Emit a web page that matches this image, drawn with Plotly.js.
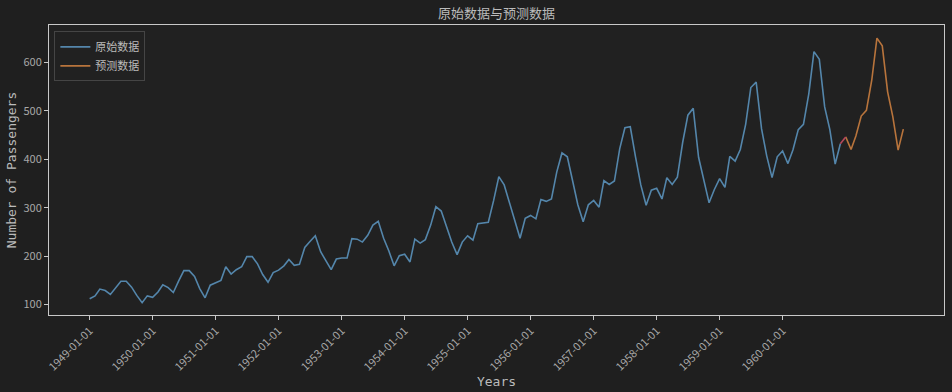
<!DOCTYPE html>
<html>
<head>
<meta charset="utf-8">
<script src="https://cdn.plot.ly/plotly-3.0.1.min.js"></script>
<style>html,body{margin:0;padding:0;background:#1f1f1f;}#chart{width:952px;height:392px;}</style>
</head>
<body>
<div id="chart"></div>
<script>
// Original monthly passengers 1949-01 .. 1960-12
const originalValues = [
  112,118,132,129,121,135,148,148,136,119,104,118,
  115,126,141,135,125,149,170,170,158,133,114,140,
  145,150,178,163,172,178,199,199,184,162,146,166,
  171,180,193,181,183,218,230,242,209,191,172,194,
  196,196,236,235,229,243,264,272,237,211,180,201,
  204,188,235,227,234,264,302,293,259,229,203,229,
  242,233,267,269,270,315,364,347,312,274,237,278,
  284,277,317,313,318,374,413,405,355,306,271,306,
  315,301,356,348,355,422,465,467,404,347,305,336,
  340,318,362,348,363,435,491,505,404,359,310,337,
  360,342,406,396,420,472,548,559,463,407,362,405,
  417,391,419,461,472,535,622,606,508,461,390,432
];
// Forecast 1961-01 .. 1961-12
const forecastValues = [446,420,448,489,501,563,650,634,539,488,419,462];
const startYear = 1949;
const tickYears = [1949,1950,1951,1952,1953,1954,1955,1956,1957,1958,1959,1960];
const tickLabels = tickYears.map(y => y + '-01-01');

function monthDates(startY, startM, n) {
  const out = [];
  for (let i = 0; i < n; i++) {
    const t = startM - 1 + i;
    const y = startY + Math.floor(t / 12);
    const m = (t % 12) + 1;
    out.push(y + '-' + String(m).padStart(2, '0') + '-01');
  }
  return out;
}
const originalDates = monthDates(startYear, 1, originalValues.length);
const forecastDates = monthDates(startYear + 12, 1, forecastValues.length);

const t0 = new Date(originalDates[0]).getTime();
const t1 = new Date(forecastDates[forecastDates.length - 1]).getTime();
const pad = 0.05 * (t1 - t0);
const iso = t => new Date(t).toISOString().slice(0, 19).replace('T', ' ');

const tickFont = {family: 'Noto Sans CJK SC, sans-serif', size: 11, color: '#a8a8a8'};

const traces = [
  {x: originalDates, y: originalValues, mode: 'lines', name: '原始数据',
   line: {color: '#5486ab', width: 1.6}},
  {x: forecastDates, y: forecastValues, mode: 'lines', name: '预测数据',
   line: {color: '#b8743c', width: 1.6}},
  {x: [originalDates[originalDates.length - 1], forecastDates[0]],
   y: [originalValues[originalValues.length - 1], forecastValues[0]],
   mode: 'lines', showlegend: false, hoverinfo: 'skip',
   line: {color: '#b5485c', width: 1.6}}
];

const layout = {
  width: 952, height: 392,
  paper_bgcolor: '#1f1f1f', plot_bgcolor: '#212121',
  margin: {l: 49, r: 8, t: 25, b: 77},
  title: {text: '原始数据与预测数据', x: 0.5215, xanchor: 'center', y: 0.965, yanchor: 'middle',
          font: {family: 'Noto Sans CJK SC, sans-serif', size: 13, color: '#bbbbbb'}},
  showlegend: true,
  legend: {x: 0.006, y: 0.978, xanchor: 'left', yanchor: 'top',
           bgcolor: '#212121', bordercolor: '#454545', borderwidth: 1,
           font: {family: 'Noto Sans CJK SC, sans-serif', size: 11, color: '#bbbbbb'},
           tracegroupgap: 0, itemwidth: 30},
  xaxis: {
    type: 'date', range: [iso(t0 - pad), iso(t1 + pad)],
    tickmode: 'array', tickvals: tickYears.map(y => y + '-01-01'), ticktext: tickLabels,
    tickangle: -45, tickfont: tickFont,
    ticks: 'outside', ticklen: 4, tickcolor: '#c8c8c8', tickwidth: 1,
    showline: true, linecolor: '#c8c8c8', linewidth: 1, mirror: true,
    showgrid: false, zeroline: false,
    title: {text: 'Years', standoff: 0,
            font: {family: 'DejaVu Sans Mono, monospace', size: 13, color: '#bbbbbb'}}
  },
  yaxis: {
    range: [78.5, 677], tickmode: 'array', tickvals: [100,200,300,400,500,600],
    tickfont: tickFont,
    ticks: 'outside', ticklen: 4, tickcolor: '#c8c8c8', tickwidth: 1,
    showline: true, linecolor: '#c8c8c8', linewidth: 1, mirror: true,
    showgrid: false, zeroline: false,
    title: {text: 'Number of Passengers', standoff: 3,
            font: {family: 'DejaVu Sans Mono, monospace', size: 13, color: '#bbbbbb'}}
  }
};

Plotly.newPlot('chart', traces, layout, {displayModeBar: false, staticPlot: true});
</script>
</body>
</html>
